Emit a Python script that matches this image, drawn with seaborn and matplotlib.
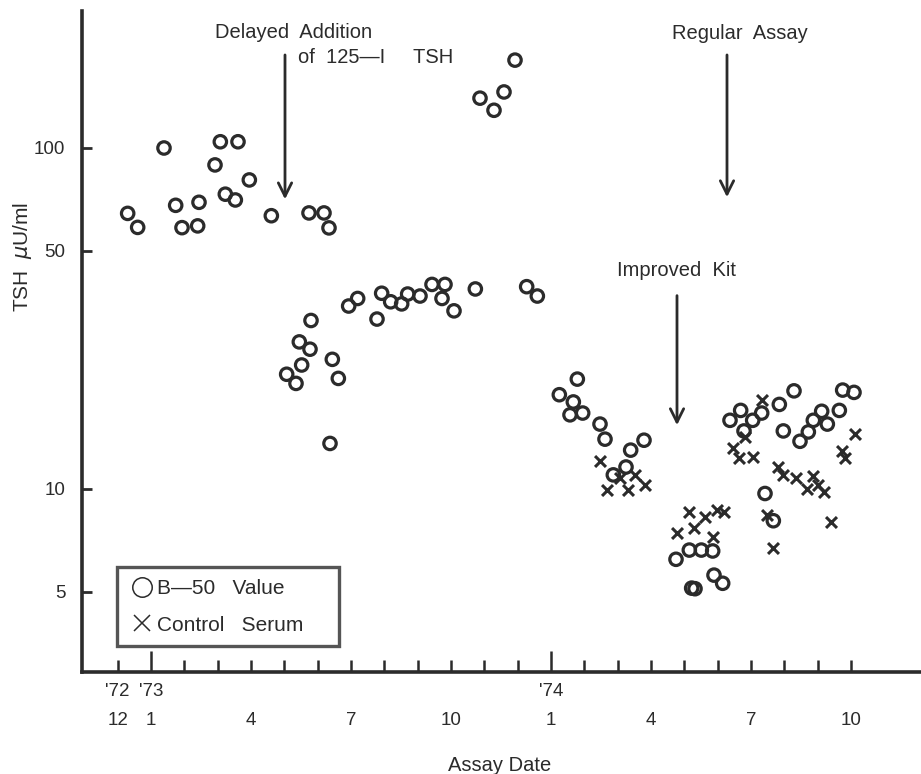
import matplotlib
matplotlib.use("Agg")
import matplotlib.pyplot as plt
from matplotlib import font_manager
from matplotlib.lines import Line2D
import seaborn as sns
import numpy as np
import pandas as pd

# ---------------- data (months since Jan 1973; TSH in microU/ml) ----------------
b50_month = [-0.70, -0.40, 0.39, 0.74, 0.93, 1.40, 1.44, 1.92, 2.08, 2.23, 2.53, 2.61, 2.95,
             3.61, 4.74, 5.19, 5.34,
             4.07, 4.35, 4.52, 4.45, 4.77, 4.80, 5.44, 5.62, 5.37, 5.93, 6.20, 6.78, 6.92,
             7.19, 7.52, 7.70, 8.07, 8.43, 8.82, 8.73, 9.09, 9.73, 11.27, 11.59,
             9.87, 10.29, 10.59, 10.92,
             12.25, 12.79, 12.67, 12.57, 12.95, 13.47, 13.62, 13.87, 14.25, 14.39, 14.79,
             15.75, 16.15, 16.51, 16.85, 16.22, 16.32, 16.89, 17.15,
             17.37, 17.69, 17.79, 18.05, 18.32, 18.85, 18.97, 19.29, 19.47, 19.72, 19.87,
             20.12, 20.29, 20.65, 20.75, 21.09, 18.42, 18.67]
b50_value = [64.3, 58.5, 100, 67.9, 58.4, 59.1, 69.3, 89.2, 104.3, 73.2, 70.4, 104.3, 80.6,
             63.3, 64.5, 64.5, 58.3,
             21.7, 20.4, 23.1, 27.0, 25.7, 31.2, 24.0, 21.1, 13.6, 34.4, 36.2, 31.5, 37.5,
             35.4, 34.9, 37.3, 36.8, 39.8, 39.8, 36.2, 33.3, 38.6, 39.2, 36.8,
             140, 129, 146, 181,
             18.9, 21.0, 18.0, 16.5, 16.7, 15.5, 14.0, 11.0, 11.6, 13.0, 13.9,
             6.22, 6.62, 6.62, 6.58, 5.12, 5.10, 5.59, 5.29,
             15.9, 17.0, 14.8, 15.9, 16.7, 17.7, 14.8, 19.4, 13.8, 14.7, 15.9,
             16.9, 15.5, 17.0, 19.5, 19.2, 9.7, 8.07]

ctrl_month = [13.47, 13.67, 14.08, 14.32, 14.52, 14.82,
              15.77, 16.15, 16.29, 16.62, 16.85, 16.97, 17.19,
              17.45, 17.65, 17.82, 18.07, 18.32, 18.48, 18.65, 18.82, 18.97, 19.35, 19.67,
              19.85, 20.02, 20.19, 20.39, 20.73, 20.82, 21.12]
ctrl_value = [12.1, 9.9, 10.8, 9.9, 11.0, 10.3,
              7.44, 8.58, 7.67, 8.26, 7.22, 8.68, 8.58,
              13.2, 12.3, 14.2, 12.4, 18.2, 8.4, 6.7, 11.6, 11.0, 10.8, 10.0,
              10.9, 10.3, 9.8, 8.0, 12.9, 12.3, 14.5]

month_ticks = list(range(-1, 22))
month_label_pos = [-1, 0, 3, 6, 9, 12, 15, 18, 21]
month_labels = ["12", "1", "4", "7", "10", "1", "4", "7", "10"]
year_label_pos = [-1, 0, 12]
year_labels = ["'72", "'73", "'74"]
y_ticks = [5, 10, 50, 100]
y_ticklabels = ["5", "10", "50", "100"]

# ---------------- style ----------------
sns.set_theme(style="white")
avail = {f.name for f in font_manager.fontManager.ttflist}
fam = [f for f in ["Liberation Sans Narrow", "Liberation Sans", "DejaVu Sans"] if f in avail]
plt.rcParams["font.family"] = fam
INK = "#2b2b2b"

fig = plt.figure(figsize=(9.21, 7.74), dpi=100)
ax = fig.add_axes([82 / 921, 102 / 774, 839 / 921, 661 / 774])

df_b = pd.DataFrame({"month": b50_month, "tsh": b50_value})
df_c = pd.DataFrame({"month": ctrl_month, "tsh": ctrl_value})

sns.scatterplot(data=df_b, x="month", y="tsh", marker="o", s=80,
                facecolor="none", edgecolor=INK, linewidth=2.3, ax=ax, zorder=3)
sns.scatterplot(data=df_c, x="month", y="tsh", marker="x", s=62,
                color=INK, linewidth=2.2, ax=ax, zorder=3)

ax.set_yscale("log")
ax.set_ylim(2.906, 252.2)
ax.set_xlim(-2.07, 23.1)

# spines
for s in ["top", "right"]:
    ax.spines[s].set_visible(False)
for s in ["left", "bottom"]:
    ax.spines[s].set_linewidth(2.6)
    ax.spines[s].set_color(INK)

# y ticks
ax.yaxis.set_major_locator(matplotlib.ticker.FixedLocator(y_ticks))
ax.yaxis.set_minor_locator(matplotlib.ticker.NullLocator())
ax.set_yticklabels(y_ticklabels)
ax.tick_params(axis="y", which="major", direction="in", length=7, width=2,
               color=INK, labelsize=13.5, labelcolor=INK, pad=12, left=True)

# x ticks
ax.set_xticks(month_ticks)
ax.set_xticklabels([month_labels[month_label_pos.index(m)] if m in month_label_pos else ""
                    for m in month_ticks])
ax.tick_params(axis="x", which="major", direction="in", length=8.5, width=1.8,
               color=INK, labelsize=13.5, labelcolor=INK, pad=29, bottom=True)
for t, m in zip(ax.xaxis.get_major_ticks(), month_ticks):
    if m in (0, 12):
        t.tick1line.set_markersize(15)
ax.grid(False)

for pos, lab in zip(year_label_pos, year_labels):
    ax.annotate(lab, xy=(pos, 0), xycoords=("data", "axes fraction"),
                xytext=(0, -14), textcoords="offset points",
                ha="center", va="center", fontsize=13.5, color=INK)

ax.set_xlabel("Assay Date", fontsize=14.5, color=INK)
ax.xaxis.set_label_coords(0.498, -0.1407)
ax.xaxis.label.set_va("center")
ax.set_ylabel("TSH  $\\mu$U/ml", fontsize=15, color=INK)
ax.yaxis.set_label_coords(-0.0715, 0.628)
ax.yaxis.label.set_va("center")

# annotations
arrowkw = dict(arrowstyle="->", color=INK, lw=2.0, mutation_scale=24)
ax.annotate("", xy=(4.02, 69.4), xytext=(4.02, 191), arrowprops=arrowkw)
ax.annotate("", xy=(17.28, 70.4), xytext=(17.28, 191), arrowprops=arrowkw)
ax.annotate("", xy=(15.78, 15.1), xytext=(15.78, 37.6), arrowprops=arrowkw)

txtkw = dict(fontsize=14.5, color=INK, va="center", ha="left", clip_on=False)
ax.text(1.92, 218.8, "Delayed  Addition", **txtkw)
ax.text(4.41, 184.8, "of  125\u2014I     TSH", **txtkw)
ax.text(15.63, 217, "Regular  Assay", **txtkw)
ax.text(13.98, 43.8, "Improved  Kit", **txtkw)

# legend
handles = [Line2D([], [], ls="none", marker="o", ms=14, mfc="none", mec=INK, mew=1.1),
           Line2D([], [], ls="none", marker="x", ms=11, mec=INK, mew=1.1)]
leg = ax.legend(handles, ["B\u201450   Value", "Control   Serum"],
                loc="lower left", bbox_to_anchor=(0.0417, 0.0393, 0.265, 0.121),
                mode="expand", borderaxespad=0, fontsize=15, frameon=True,
                fancybox=False, handletextpad=0.05, handlelength=1.3,
                labelspacing=0.85, borderpad=0.55, labelcolor=INK)
leg.get_frame().set_edgecolor(INK)
leg.get_frame().set_linewidth(2.4)

fig.savefig("out.png", dpi=100)
